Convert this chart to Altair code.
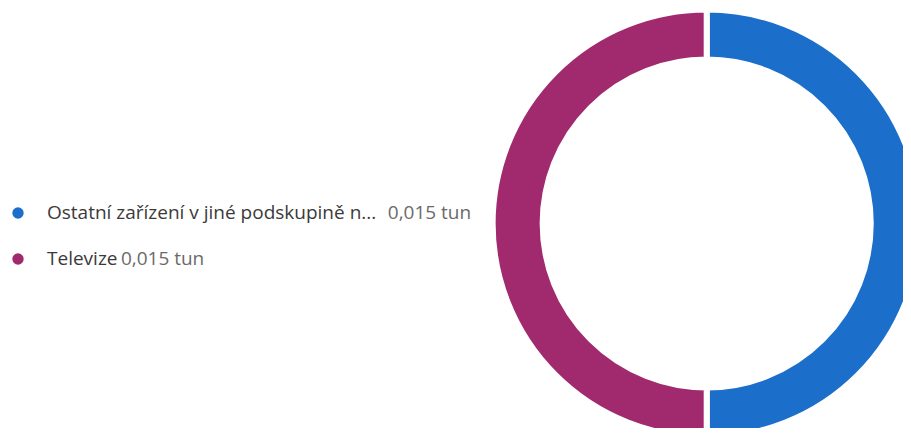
import altair as alt
import pandas as pd

categories = ["Ostatní zařízení v jiné podskupině n...", "Televize"]
values = [0.015, 0.015]
value_labels = ["0,015 tun", "0,015 tun"]
colors = ["#1B6EC9", "#A12A6E"]

df = pd.DataFrame({
    "kategorie": categories,
    "hodnota": values,
    "popis": value_labels,
    "poradi": list(range(len(categories))),
})

color_scale = alt.Scale(domain=categories, range=colors)
y_scale = alt.Scale(domain=[0, 1], range=[205, 251])

base = alt.Chart(df)

donut = base.mark_arc(
    innerRadius=164, outerRadius=214, stroke="white", strokeWidth=6
).encode(
    theta=alt.Theta("hodnota:Q", stack=True),
    order=alt.Order("poradi:Q"),
    color=alt.Color("kategorie:N", scale=color_scale, legend=None),
    x=alt.value(698.7),
    y=alt.value(215.5),
)

dots = base.mark_circle(size=130, opacity=1).encode(
    x=alt.value(10),
    y=alt.Y("poradi:Q", scale=y_scale, axis=None),
    color=alt.Color("kategorie:N", scale=color_scale, legend=None),
)

labels = base.mark_text(
    align="left", baseline="middle", font="Open Sans", fontSize=19, color="#3B3A39"
).encode(
    x=alt.value(39),
    y=alt.Y("poradi:Q", scale=y_scale, axis=None),
    text="kategorie:N",
)

vals = base.transform_calculate(
    vx="44 + length(datum.kategorie) * 8.61"
).mark_text(
    align="left", baseline="middle", font="Open Sans", fontSize=19, color="#6B6A69"
).encode(
    x=alt.X("vx:Q", scale=None, axis=None),
    y=alt.Y("poradi:Q", scale=y_scale, axis=None),
    text="popis:N",
)

chart = alt.layer(donut, dots, labels, vals).properties(
    width=895, height=420, autosize=alt.AutoSizeParams(type="none"), padding=0
).configure_view(stroke=None)

chart.save("out.html", embed_options={"renderer": "svg", "actions": False})
